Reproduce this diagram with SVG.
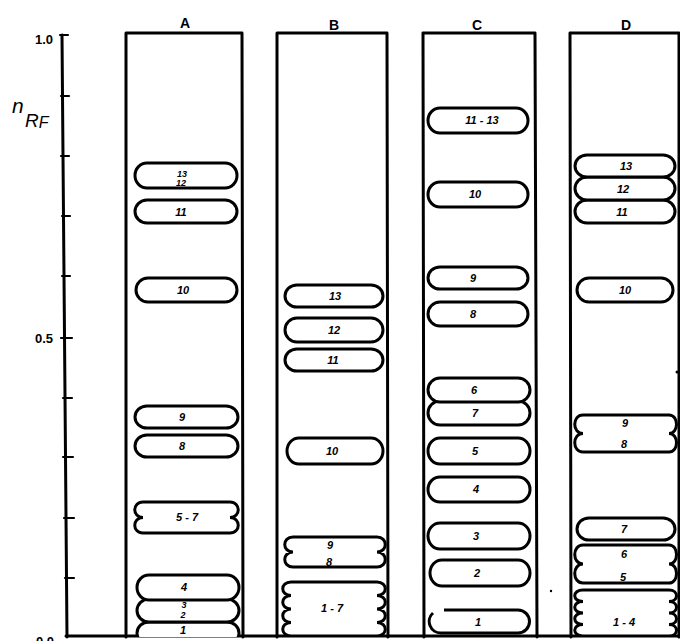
<svg xmlns="http://www.w3.org/2000/svg" width="680" height="641" viewBox="0 0 680 641">
<defs>
<style>
.ln{fill:none;stroke:#000;stroke-width:3;stroke-linecap:round;stroke-linejoin:round}
.sp{fill:#fff;stroke:#000;stroke-width:3}
.lb{font-family:"Liberation Sans",Arial,sans-serif;font-weight:bold;font-style:italic;font-size:11px;text-anchor:middle;fill:#000}
.sm{font-size:9px}
.ax{font-family:"Liberation Sans",Arial,sans-serif;font-weight:bold;font-size:13px;fill:#000}
.cl{font-family:"Liberation Sans",Arial,sans-serif;font-weight:bold;font-size:14px;text-anchor:middle;fill:#000}
</style>
<clipPath id="plate"><rect x="0" y="0" width="680" height="637"/></clipPath>
</defs>
<rect width="680" height="641" fill="#fff"/>

<g id="axis">
<line class="ln" x1="62" y1="35" x2="67" y2="637"/>
<g class="ln" style="stroke-width:2.2">
<line x1="60" y1="35" x2="68" y2="35"/>
<line x1="61" y1="96" x2="69" y2="96"/>
<line x1="61" y1="156" x2="69" y2="156"/>
<line x1="62" y1="216" x2="70" y2="216"/>
<line x1="62" y1="276" x2="70" y2="276"/>
<line x1="61" y1="338" x2="72" y2="338"/>
<line x1="63" y1="398" x2="72" y2="398"/>
<line x1="63" y1="457" x2="73" y2="457"/>
<line x1="64" y1="518" x2="74" y2="518"/>
<line x1="65" y1="578" x2="74" y2="578"/>
</g>
<text class="ax" x="53" y="44" text-anchor="end">1.0</text>
<text class="ax" x="53" y="343" text-anchor="end">0.5</text>
<text class="ax" x="54" y="646" text-anchor="end">0.0</text>
<text x="12" y="113" font-family="'Liberation Sans',Arial,sans-serif" font-style="italic" font-size="21">n<tspan font-size="19" x="25" y="127">R</tspan><tspan font-size="16" y="128">F</tspan></text>
</g>

<g id="baseline"><line class="ln" x1="66" y1="636" x2="680" y2="636"/></g>

<g id="columnA">
<polyline class="ln" points="126,637 126,33 242,33 243,637"/>
<text class="cl" x="185" y="28">A</text>
<g clip-path="url(#plate)">
<rect class="sp" x="135" y="163" width="102" height="25" rx="12" ry="12.5"/>
<text class="lb sm" x="182" y="177">13</text><text class="lb sm" x="181" y="186">12</text>
<rect class="sp" x="135" y="200" width="102" height="23" rx="12" ry="11.5"/>
<text class="lb" x="181" y="216">11</text>
<rect class="sp" x="136" y="278" width="101" height="24" rx="12" ry="12"/>
<text class="lb" x="183" y="294">10</text>
<rect class="sp" x="135" y="406" width="103" height="22" rx="12" ry="11"/>
<text class="lb" x="182" y="421">9</text>
<rect class="sp" x="135" y="435" width="103" height="22" rx="12" ry="11"/>
<text class="lb" x="182" y="450">8</text>
<path class="sp" d="M143,502 H230 C241,502 241,517.5 230,517.5 C241,517.5 241,533 230,533 H143 C132,533 132,517.5 143,517.5 C132,517.5 132,502 143,502 Z"/>
<text class="lb" x="187" y="521">5 - 7</text>
<rect class="sp" x="137" y="622" width="102" height="22" rx="12" ry="11"/>
<text class="lb" x="183" y="634">1</text>
<rect class="sp" x="137" y="599" width="102" height="23" rx="12" ry="11.5"/>
<text class="lb sm" x="184" y="608">3</text><text class="lb sm" x="183" y="618">2</text>
<rect class="sp" x="137" y="575" width="102" height="25" rx="12" ry="12.5"/>
<text class="lb" x="184" y="591">4</text>
</g>
</g>

<g id="columnB">
<polyline class="ln" points="277,637 277,33 387,33 388,637"/>
<text class="cl" x="334" y="30">B</text>
<g clip-path="url(#plate)">
<rect class="sp" x="285" y="285" width="98" height="22" rx="12" ry="11"/>
<text class="lb" x="335" y="300">13</text>
<rect class="sp" x="285" y="318" width="98" height="24" rx="12" ry="12"/>
<text class="lb" x="334" y="334">12</text>
<rect class="sp" x="285" y="349" width="98" height="22" rx="12" ry="11"/>
<text class="lb" x="333" y="364">11</text>
<rect class="sp" x="287" y="438" width="96" height="26" rx="12" ry="13"/>
<text class="lb" x="332" y="455">10</text>
<path class="sp" d="M293,537 H377 C388,537 388,552 377,552 C388,552 388,567 377,567 H293 C282,567 282,552 293,552 C282,552 282,537 293,537 Z"/>
<text class="lb" x="330" y="549">9</text>
<text class="lb" x="329" y="566">8</text>
<path class="sp" d="M291,582 H377 C388,582 388,595.5 377,595.5 C388,595.5 388,609 377,609 C388,609 388,622.5 377,622.5 C388,622.5 388,636 377,636 H291 C280,636 280,622.5 291,622.5 C280,622.5 280,609 291,609 C280,609 280,595.5 291,595.5 C280,595.5 280,582 291,582 Z"/>
<text class="lb" x="332" y="612">1 - 7</text>
</g>
</g>

<g id="columnC">
<polyline class="ln" points="424,637 423,33 535,33 537,637"/>
<text class="cl" x="477" y="30">C</text>
<g clip-path="url(#plate)">
<rect class="sp" x="428" y="108" width="100" height="25" rx="12" ry="12.5"/>
<text class="lb" x="482" y="124">11 - 13</text>
<rect class="sp" x="428" y="182" width="100" height="25" rx="12" ry="12.5"/>
<text class="lb" x="475" y="198">10</text>
<rect class="sp" x="428" y="267" width="100" height="22" rx="12" ry="11"/>
<text class="lb" x="473" y="282">9</text>
<rect class="sp" x="428" y="302" width="100" height="24" rx="12" ry="12"/>
<text class="lb" x="473" y="318">8</text>
<rect class="sp" x="428" y="401" width="102" height="24" rx="12" ry="12"/>
<text class="lb" x="475" y="417">7</text>
<rect class="sp" x="428" y="378" width="102" height="24" rx="12" ry="12"/>
<text class="lb" x="474" y="394">6</text>
<rect class="sp" x="428" y="438" width="102" height="26" rx="12" ry="13"/>
<text class="lb" x="475" y="455">5</text>
<rect class="sp" x="428" y="477" width="102" height="25" rx="12" ry="12.5"/>
<text class="lb" x="476" y="493">4</text>
<rect class="sp" x="428" y="523" width="102" height="26" rx="12" ry="13"/>
<text class="lb" x="476" y="540">3</text>
<rect class="sp" x="430" y="560" width="100" height="26" rx="12" ry="13"/>
<text class="lb" x="477" y="577">2</text>
<path class="sp" d="M444,610 H518 A11.5,11.5 0 0 1 518,633 H441 A11.5,11.5 0 0 1 433,613"/>
<text class="lb" x="478" y="626">1</text>
</g>
<circle cx="551" cy="591" r="1.2" fill="#000"/>
</g>

<g id="columnD">
<polyline class="ln" points="571,637 570,33 679,33 679,637"/>
<text class="cl" x="626" y="30">D</text>
<g clip-path="url(#plate)">
<rect class="sp" x="575" y="200" width="100" height="23" rx="12" ry="11.5"/>
<text class="lb" x="622" y="216">11</text>
<rect class="sp" x="575" y="177" width="100" height="23" rx="12" ry="11.5"/>
<text class="lb" x="623" y="193">12</text>
<rect class="sp" x="575" y="155" width="100" height="22" rx="12" ry="11"/>
<text class="lb" x="626" y="170">13</text>
<rect class="sp" x="577" y="278" width="96" height="24" rx="12" ry="12"/>
<text class="lb" x="625" y="294">10</text>
<path class="sp" d="M583,415 H669 C679,415 679,433.5 669,433.5 C679,433.5 679,452 669,452 H583 C572,452 572,433.5 583,433.5 C572,433.5 572,415 583,415 Z"/>
<text class="lb" x="625" y="427">9</text>
<text class="lb" x="624" y="448">8</text>
<rect class="sp" x="577" y="518" width="98" height="22" rx="12" ry="11"/>
<text class="lb" x="624" y="533">7</text>
<path class="sp" d="M583,545 H669 C679,545 679,564 669,564 C679,564 679,583 669,583 H583 C572,583 572,564 583,564 C572,564 572,545 583,545 Z"/>
<text class="lb" x="624" y="558">6</text>
<text class="lb" x="623" y="581">5</text>
<path class="sp" d="M583,590 H669 C679,590 679,601.5 669,601.5 C679,601.5 679,613 669,613 C679,613 679,624.5 669,624.5 C679,624.5 679,636 669,636 H583 C572,636 572,624.5 583,624.5 C572,624.5 572,613 583,613 C572,613 572,601.5 583,601.5 C572,601.5 572,590 583,590 Z"/>
<text class="lb" x="624" y="626">1 - 4</text>
</g>
<circle cx="677" cy="372" r="1.5" fill="#000"/>
</g>
</svg>
